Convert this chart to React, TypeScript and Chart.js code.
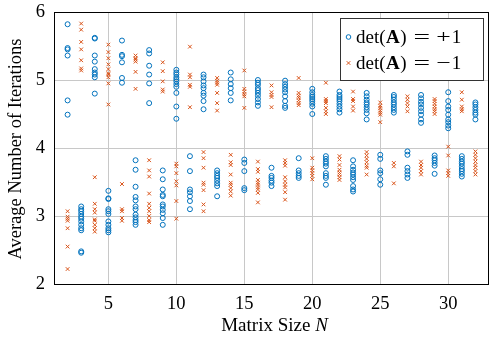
import { useEffect, useRef } from "react";
import { Chart, registerables } from "chart.js";

Chart.register(...registerables);

// Matrix sizes N (x values)
const matrixSizes = [2, 3, 4, 5, 6, 7, 8, 9, 10, 11, 12, 13, 14, 15, 16, 17, 18, 19, 20, 21, 22, 23, 24, 25, 26, 27, 28, 29, 30, 31, 32];

// Average iterations for det(A) = +1, one list per matrix size
const detPlusValues: number[][] = [
  [5.82, 5.47, 5.45, 5.36, 4.7, 4.49],
  [3.14, 3.1, 3.07, 3.03, 2.99, 2.96, 2.92, 2.87, 2.82, 2.79, 2.48, 2.46],
  [5.62, 5.61, 5.36, 5.27, 5.16, 5.11, 5.08, 5.04, 4.8],
  [3.37, 3.26, 3.25, 3.1, 3.07, 3.03, 2.92, 2.87, 2.82, 2.79, 2.76],
  [5.58, 5.37, 5.35, 5.26, 5.03, 4.96],
  [3.82, 3.68, 3.43, 3.28, 3.23, 3.14, 3.1, 3.02, 2.98, 2.94, 2.91, 2.87],
  [5.44, 5.39, 5.21, 5.08, 4.95, 4.66],
  [3.67, 3.54, 3.39, 3.31, 3.29, 3.17, 3.14, 3.09, 3.04, 2.97, 2.87],
  [5.15, 5.11, 5.08, 5.04, 5.01, 4.98, 4.94, 4.9, 4.81, 4.61, 4.43],
  [3.88, 3.66, 3.39, 3.35, 3.29, 3.22, 3.1],
  [5.08, 5.04, 4.98, 4.92, 4.88, 4.81, 4.77, 4.69, 4.57],
  [3.67, 3.63, 3.59, 3.56, 3.52, 3.48, 3.44, 3.29],
  [5.11, 5.01, 4.94, 4.88, 4.81, 4.7],
  [3.83, 3.78, 3.66, 3.41, 3.38],
  [5.0, 4.96, 4.93, 4.88, 4.85, 4.81, 4.77, 4.72, 4.67, 4.62],
  [3.71, 3.59, 3.56, 3.52, 3.49, 3.44],
  [4.99, 4.94, 4.9, 4.86, 4.82, 4.76, 4.69, 4.62, 4.59],
  [3.85, 3.67, 3.63, 3.59, 3.56],
  [4.87, 4.82, 4.78, 4.75, 4.72, 4.69, 4.65, 4.61, 4.5],
  [3.88, 3.84, 3.8, 3.77, 3.73, 3.63, 3.59, 3.56, 3.46],
  [4.83, 4.78, 4.75, 4.72, 4.69, 4.65, 4.61, 4.57, 4.52],
  [3.82, 3.73, 3.68, 3.64, 3.61, 3.57, 3.53, 3.44, 3.39, 3.36],
  [4.81, 4.76, 4.71, 4.67, 4.64, 4.6, 4.56, 4.51, 4.42],
  [3.9, 3.84, 3.67, 3.63, 3.54, 3.46],
  [4.78, 4.75, 4.71, 4.67, 4.64, 4.6, 4.56, 4.52],
  [3.95, 3.9, 3.71, 3.66, 3.61, 3.56],
  [4.78, 4.73, 4.68, 4.64, 4.59, 4.54, 4.49, 4.42, 4.37],
  [3.89, 3.85, 3.82, 3.78, 3.74, 3.62],
  [4.82, 4.69, 4.61, 4.56, 4.49, 4.42, 4.38, 4.33, 4.29],
  [3.88, 3.84, 3.8, 3.77, 3.73, 3.69, 3.66, 3.62, 3.58],
  [4.67, 4.64, 4.6, 4.56, 4.52, 4.49, 4.42],
];

// Average iterations for det(A) = -1, one list per matrix size
const detMinusValues: number[][] = [
  [3.07, 2.99, 2.96, 2.93, 2.82, 2.55, 2.22],
  [5.83, 5.74, 5.56, 5.45, 5.29, 5.17, 5.14],
  [3.57, 3.18, 3.1, 3.05, 2.95, 2.93, 2.87, 2.82, 2.77],
  [5.52, 5.41, 5.32, 5.23, 5.16, 5.1, 5.08, 5.04, 4.95, 4.64],
  [3.47, 3.1, 3.07, 2.97, 2.93],
  [5.36, 5.32, 5.3, 5.27, 5.12, 4.87],
  [3.82, 3.67, 3.58, 3.33, 3.18, 3.12, 3.07, 3.0, 2.94, 2.91],
  [5.26, 5.13, 4.98, 4.86, 4.83],
  [3.77, 3.73, 3.63, 3.51, 3.45, 3.22, 2.96],
  [5.49, 5.08, 5.04, 4.93, 4.9, 4.6],
  [3.94, 3.85, 3.71, 3.49, 3.46, 3.38, 3.17, 3.07],
  [5.03, 4.99, 4.96, 4.93, 4.81, 4.66, 4.55],
  [3.9, 3.79, 3.75, 3.61, 3.49, 3.46, 3.41, 3.36, 3.3],
  [5.14, 4.87, 4.83, 4.79, 4.76, 4.59],
  [3.8, 3.69, 3.65, 3.53, 3.49, 3.46, 3.42, 3.39, 3.34, 3.2],
  [4.92, 4.82, 4.78, 4.75, 4.6],
  [3.82, 3.78, 3.74, 3.57, 3.51, 3.46, 3.42, 3.35, 3.24],
  [5.03, 4.81, 4.77, 4.74, 4.7, 4.66, 4.63],
  [3.85, 3.71, 3.67, 3.63, 3.59, 3.54],
  [4.96, 4.72, 4.69, 4.66, 4.59, 4.54, 4.5],
  [3.88, 3.83, 3.75, 3.68, 3.64, 3.61, 3.57, 3.53],
  [4.83, 4.72, 4.69, 4.61, 4.55],
  [3.94, 3.89, 3.84, 3.79, 3.74, 3.71, 3.61],
  [4.67, 4.62, 4.59, 4.55, 4.52, 4.49, 4.38],
  [3.78, 3.73, 3.48],
  [4.76, 4.71, 4.66, 4.61, 4.54],
  [3.8, 3.75, 3.71, 3.66, 3.61],
  [4.72, 4.69, 4.65, 4.61, 4.57, 4.54, 4.5],
  [4.02, 3.89, 3.67, 3.63, 3.59],
  [4.82, 4.71, 4.61, 4.57, 4.54],
  [3.95, 3.9, 3.85, 3.8, 3.75, 3.71, 3.66, 3.61],
];

const xTickValues = [5, 10, 15, 20, 25, 30];
const yTickValues = [2, 3, 4, 5, 6];
const legendSigns = ["+", "\u2212"];
const xTitle = "Matrix Size ";
const xTitleVar = "N";
const yTitle = "Average Number of Iterations";

const BLUE = "rgb(0,114,189)";
const ORANGE = "rgb(217,83,25)";
const FONT = "'Liberation Serif', 'Times New Roman', serif";

function toPoints(values: number[][]) {
  const pts: { x: number; y: number }[] = [];
  values.forEach((list, i) => {
    list.forEach((v) => pts.push({ x: matrixSizes[i], y: v }));
  });
  return pts;
}

const decorPlugin = {
  id: "decor",
  afterDraw(chart: any) {
    const { ctx, chartArea } = chart;
    const { left, top, right, bottom } = chartArea;
    ctx.save();
    // frame
    ctx.strokeStyle = "#000";
    ctx.lineWidth = 1;
    ctx.strokeRect(Math.round(left) + 0.5, Math.round(top) + 0.5, Math.round(right - left) - 1, Math.round(bottom - top));

    // y title
    ctx.fillStyle = "#000";
    ctx.font = `18.5px ${FONT}`;
    ctx.textAlign = "center";
    ctx.textBaseline = "middle";
    ctx.save();
    ctx.translate(16, (top + bottom) / 2 + 1);
    ctx.rotate(-Math.PI / 2);
    ctx.fillText(yTitle, 0, 0);
    ctx.restore();

    // x title with italic N
    ctx.textAlign = "left";
    ctx.textBaseline = "alphabetic";
    ctx.font = `19px ${FONT}`;
    const w1 = ctx.measureText(xTitle).width;
    ctx.font = `italic 19px ${FONT}`;
    const w2 = ctx.measureText(xTitleVar).width;
    const cx = (left + right) / 2 + 3;
    const x0 = cx - (w1 + w2) / 2;
    const ty = 331;
    ctx.font = `19px ${FONT}`;
    ctx.fillText(xTitle, x0, ty);
    ctx.font = `italic 19px ${FONT}`;
    ctx.fillText(xTitleVar, x0 + w1, ty);

    // legend
    const lx = 340, ly = 18, lw = 143, lh = 62;
    ctx.fillStyle = "#fff";
    ctx.fillRect(lx, ly, lw, lh);
    ctx.strokeStyle = "#333";
    ctx.strokeRect(lx + 0.5, ly + 0.5, lw, lh);
    const rows = [37, 63];
    rows.forEach((ry, i) => {
      ctx.lineWidth = 1;
      if (i === 0) {
        ctx.strokeStyle = BLUE;
        ctx.beginPath();
        ctx.arc(348.5, ry, 2.3, 0, Math.PI * 2);
        ctx.stroke();
      } else {
        ctx.strokeStyle = ORANGE;
        const d = 1.8;
        ctx.beginPath();
        ctx.moveTo(348.5 - d, ry - d);
        ctx.lineTo(348.5 + d, ry + d);
        ctx.moveTo(348.5 + d, ry - d);
        ctx.lineTo(348.5 - d, ry + d);
        ctx.stroke();
      }
      ctx.fillStyle = "#000";
      ctx.textBaseline = "alphabetic";
      const base = ry + 6;
      const reg = `19px ${FONT}`;
      let x = 356;
      const draw = (t: string, f: string, gapAfter: number) => {
        ctx.font = f;
        ctx.fillText(t, x, base);
        x += ctx.measureText(t).width + gapAfter;
      };
      draw("det(", reg, 0.5);
      draw("A", `bold 19px ${FONT}`, 0.5);
      draw(")", reg, 7);
      // wide equals sign
      ctx.save();
      ctx.font = reg;
      const eqW = ctx.measureText("=").width;
      ctx.translate(x, base);
      ctx.scale(1.55, 1);
      ctx.fillText("=", 0, 0);
      ctx.restore();
      x += eqW * 1.55 + 6;
      ctx.save();
      ctx.font = reg;
      const sW = ctx.measureText(legendSigns[i]).width;
      ctx.translate(x, base);
      ctx.scale(1.35, 1);
      ctx.fillText(legendSigns[i], 0, 0);
      ctx.restore();
      x += sW * 1.35 + 1;
      draw("1", reg, 0);
    });
    ctx.restore();
  },
};

export default function App() {
  const ref = useRef<HTMLCanvasElement | null>(null);
  useEffect(() => {
    if (!ref.current) return;
    const chart = new Chart(ref.current, {
      type: "scatter",
      data: {
        datasets: [
          {
            label: "det(A) = +1",
            data: toPoints(detPlusValues),
            pointStyle: "circle",
            pointRadius: 2.5,
            pointBorderWidth: 1,
            borderColor: BLUE,
            backgroundColor: "rgba(0,0,0,0)",
          },
          {
            label: "det(A) = -1",
            data: toPoints(detMinusValues),
            pointStyle: "crossRot",
            pointRadius: 2.6,
            pointBorderWidth: 1,
            borderColor: ORANGE,
            backgroundColor: ORANGE,
          },
        ],
      },
      options: {
        animation: false,
        responsive: false,
        maintainAspectRatio: false,
        layout: { padding: { top: 12, right: 2, left: 0, bottom: 0 } },
        plugins: { legend: { display: false }, tooltip: { enabled: false } },
        scales: {
          x: {
            type: "linear",
            min: 1,
            max: 33,
            afterBuildTicks: (s: any) => {
              s.ticks = xTickValues.map((v) => ({ value: v }));
            },
            afterFit: (s: any) => {
              s.height = 55;
              s.paddingLeft = 0;
              s.paddingRight = 0;
            },
            grid: { color: "#c8c8c8", drawTicks: false, lineWidth: 1 },
            border: { display: false },
            ticks: {
              padding: 9,
              color: "#000",
              maxRotation: 0,
              autoSkip: false,
              font: { family: FONT, size: 18.5 },
            },
          },
          y: {
            type: "linear",
            min: 2,
            max: 6,
            afterBuildTicks: (s: any) => {
              s.ticks = yTickValues.map((v) => ({ value: v }));
            },
            afterFit: (s: any) => {
              s.width = 54;
              s.paddingTop = 0;
              s.paddingBottom = 0;
            },
            grid: { color: "#c8c8c8", drawTicks: false, lineWidth: 1 },
            border: { display: false },
            ticks: {
              padding: 9,
              color: "#000",
              autoSkip: false,
              font: { family: FONT, size: 18.5 },
            },
          },
        },
      },
      plugins: [decorPlugin],
    });
    return () => chart.destroy();
  }, []);
  return (
    <div style={{ position: "fixed", left: 0, top: 0, width: 494, height: 339, background: "#fff" }}>
      <canvas ref={ref} width={494} height={339} style={{ display: "block" }} />
    </div>
  );
}
